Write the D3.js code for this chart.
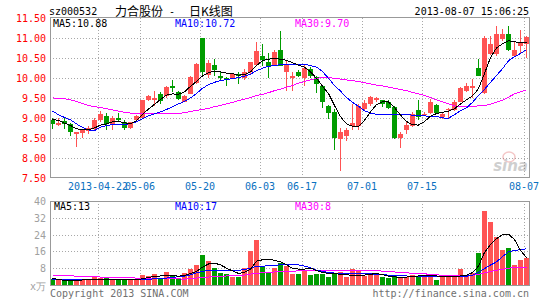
<!DOCTYPE html>
<html>
<head>
<meta charset="utf-8">
<script src="https://cdn.jsdelivr.net/npm/d3@7"></script>
<style>
  body { margin: 0; background: #fff; }
  text { font-family: "DejaVu Sans Mono", monospace; font-size: 10px; }
</style>
</head>
<body>
<div id="chart"></div>
<script>
// trading days shown (2013)
var dates = ["04-10","04-11","04-12","04-15","04-16","04-17","04-18","04-19","04-22","04-23",
  "04-24","04-25","04-26","05-02","05-03","05-06","05-07","05-08","05-09","05-10",
  "05-13","05-14","05-15","05-16","05-17","05-20","05-21","05-22","05-23","05-24",
  "05-27","05-28","05-29","05-30","05-31","06-03","06-04","06-05","06-06","06-07",
  "06-13","06-14","06-17","06-18","06-19","06-20","06-21","06-24","06-25","06-26",
  "06-27","06-28","07-01","07-02","07-03","07-04","07-05","07-08","07-09","07-10",
  "07-11","07-12","07-15","07-16","07-17","07-18","07-19","07-22","07-23","07-24",
  "07-25","07-26","07-29","07-30","07-31","08-01","08-02","08-05","08-06","08-07"];

var open = [8.95,8.82,8.92,8.84,8.60,8.62,8.67,8.72,8.93,9.05,
  8.82,8.99,8.90,8.74,8.93,8.99,9.43,9.44,9.58,9.55,
  9.78,9.65,9.40,9.60,9.86,10.98,10.07,10.31,10.05,10.00,
  9.99,10.08,9.98,10.13,10.32,10.55,10.40,10.32,10.68,10.15,
  9.99,10.13,9.99,10.22,10.01,9.80,9.30,9.13,8.47,8.53,
  8.78,8.80,9.22,9.34,9.43,9.43,9.38,9.26,8.48,8.70,
  8.80,9.18,9.07,9.11,9.32,9.01,9.18,9.18,9.40,9.66,
  9.73,10.23,9.61,10.59,10.59,10.97,11.09,10.55,10.78,10.84];
var high = [9.00,8.98,8.98,8.87,8.64,8.72,8.80,8.99,9.16,9.12,
  9.05,9.11,8.94,8.90,9.07,9.45,9.56,9.66,9.63,9.78,
  9.93,9.66,9.57,10.05,10.36,11.00,10.43,10.47,10.15,10.02,
  10.12,10.13,10.22,10.40,10.90,10.84,10.62,10.70,11.16,10.42,
  10.13,10.18,10.34,10.26,10.05,9.82,9.32,9.22,8.73,8.73,
  9.34,9.33,9.44,9.55,9.52,9.44,9.44,9.28,8.63,8.90,
  9.13,9.43,9.13,9.47,9.35,9.13,9.24,9.43,9.76,9.86,
  9.97,10.47,11.05,11.05,11.30,11.22,11.28,10.91,11.18,11.05];
var low = [8.72,8.78,8.72,8.53,8.27,8.50,8.58,8.68,8.88,8.70,
  8.68,8.88,8.68,8.72,8.91,8.97,9.42,9.30,9.33,9.50,
  9.63,9.45,9.38,9.58,9.84,10.05,10.00,10.05,9.93,9.80,
  9.97,9.83,9.95,10.10,10.30,10.30,10.00,10.28,10.28,9.66,
  9.66,10.01,9.80,10.00,9.61,9.24,8.97,8.18,7.66,8.41,
  8.69,8.69,9.19,9.30,9.38,9.26,9.22,8.46,8.24,8.59,
  8.77,8.93,9.03,9.09,9.08,8.97,8.97,9.16,9.38,9.63,
  9.49,10.03,9.59,10.57,10.55,10.92,10.67,10.52,10.59,10.49];
var close = [8.84,8.86,8.84,8.63,8.64,8.70,8.73,8.95,9.10,8.84,
  8.99,8.94,8.74,8.88,9.05,9.43,9.55,9.48,9.41,9.77,
  9.73,9.46,9.54,10.02,10.33,10.14,10.37,10.18,9.99,9.97,
  10.10,10.03,10.15,10.38,10.66,10.45,10.30,10.65,10.30,10.31,
  10.05,10.05,10.23,10.05,9.84,9.38,9.11,8.48,8.63,8.70,
  8.86,9.30,9.37,9.51,9.49,9.34,9.24,8.48,8.58,8.82,
  9.09,9.01,9.10,9.40,9.11,9.09,9.22,9.40,9.73,9.80,
  9.78,10.05,10.99,10.83,11.08,11.09,10.69,10.69,10.86,11.01];

// volume, x10k lots
var volume = [2.8,2.6,2.5,2.2,2.4,2.2,2.4,3.8,3.4,3.3,
  2.6,2.6,2.4,2.2,2.6,4.6,4.2,5.4,3.4,6.4,
  4.7,3.2,5.6,7.6,9.5,14.2,11.3,7.9,5.6,5.2,
  3.8,3.8,8.2,16.1,21.2,8.5,6.0,8.0,10.7,9.1,
  5.2,5.2,7.1,4.7,5.2,5.2,3.6,5.6,6.3,3.6,
  7.5,6.6,4.4,5.2,5.2,3.6,3.3,4.7,3.3,3.6,
  4.7,3.6,4.1,4.7,2.5,4.7,4.2,4.2,7.5,4.7,
  5.5,15.1,35.3,29.8,22.9,16.5,17.4,9.7,11.8,12.8];

// moving averages as drawn
var ma5 = [8.95,8.93,8.86,8.80,8.72,8.69,8.69,8.74,8.81,8.84,
  8.89,8.90,8.87,8.84,8.92,9.08,9.21,9.33,9.45,9.56,
  9.59,9.58,9.64,9.78,9.90,10.04,10.12,10.16,10.14,10.11,
  10.10,10.06,10.07,10.14,10.30,10.42,10.46,10.47,10.46,10.43,
  10.37,10.31,10.26,10.14,9.98,9.78,9.60,9.30,9.02,8.84,
  8.78,8.78,8.93,9.14,9.32,9.39,9.39,9.25,9.06,8.90,
  8.82,8.81,8.90,9.03,9.10,9.13,9.16,9.22,9.34,9.44,
  9.54,9.72,10.10,10.50,10.74,10.84,10.92,10.89,10.88,10.88];
var ma10 = [9.16,9.07,9.00,8.94,8.84,8.75,8.69,8.67,8.76,8.80,
  8.82,8.82,8.82,8.85,8.89,8.97,9.04,9.09,9.14,9.20,
  9.27,9.34,9.40,9.49,9.60,9.73,9.82,9.88,9.92,9.95,
  9.97,10.00,10.03,10.08,10.17,10.23,10.28,10.30,10.32,10.33,
  10.33,10.33,10.33,10.30,10.26,10.15,9.98,9.80,9.66,9.50,
  9.38,9.28,9.17,9.11,9.08,9.08,9.08,9.08,9.08,9.07,
  9.06,9.05,9.04,9.03,9.03,8.99,8.98,9.07,9.17,9.24,
  9.38,9.55,9.70,9.88,10.05,10.22,10.42,10.52,10.60,10.70];
var ma30 = [9.49,9.48,9.47,9.44,9.40,9.35,9.30,9.27,9.25,9.22,
  9.19,9.16,9.13,9.11,9.10,9.09,9.09,9.09,9.09,9.09,
  9.09,9.10,9.12,9.15,9.18,9.20,9.23,9.27,9.30,9.34,
  9.38,9.42,9.46,9.50,9.55,9.58,9.62,9.67,9.71,9.76,
  9.80,9.86,9.90,9.94,9.98,10.00,10.00,9.98,9.96,9.94,
  9.92,9.90,9.87,9.84,9.81,9.79,9.76,9.73,9.70,9.67,
  9.63,9.59,9.55,9.50,9.44,9.39,9.34,9.29,9.27,9.27,
  9.28,9.29,9.30,9.33,9.38,9.43,9.51,9.59,9.64,9.69];

var vma5 = [3.1,2.7,2.2,2.0,2.2,2.4,2.4,2.5,2.6,2.8,
  2.8,2.7,2.5,2.4,2.4,3.0,3.6,4.1,4.3,4.7,
  4.5,4.2,4.6,5.4,6.5,8.5,10.0,10.4,9.6,8.0,
  6.7,5.5,6.0,7.6,11.4,12.0,12.2,11.8,11.0,9.6,
  8.0,7.6,7.6,8.0,6.9,5.9,5.6,5.4,5.1,4.8,
  4.7,4.7,4.7,5.1,5.5,4.9,4.2,3.9,3.6,3.8,
  4.1,4.3,4.6,4.6,4.3,4.1,4.1,4.1,4.3,4.7,
  5.9,9.0,15.5,19.2,22.0,24.0,24.2,21.6,16.5,13.0];
var vma10 = [2.8,2.7,2.6,2.5,2.4,2.4,2.4,2.4,2.4,2.4,
  2.4,2.4,2.4,2.4,2.5,2.7,2.8,2.9,3.1,3.3,
  3.7,3.9,4.2,4.8,5.8,6.5,6.9,7.1,7.1,7.1,
  7.0,7.0,7.3,8.0,9.0,8.9,9.2,9.4,9.6,9.7,
  9.7,9.6,9.0,8.2,7.1,6.5,5.9,5.7,5.6,5.6,
  5.6,5.6,5.5,5.3,5.1,4.9,4.7,4.5,4.4,4.3,
  4.2,4.1,4.1,4.1,4.1,4.1,4.1,4.1,4.1,4.2,
  4.7,6.0,7.8,9.5,11.0,13.5,15.8,16.4,16.8,17.3];
var vma30 = [4.7,4.7,4.6,4.4,4.2,4.1,4.0,3.9,3.8,3.7,
  3.6,3.6,3.5,3.4,3.3,3.2,3.1,3.1,3.0,3.0,
  2.9,2.9,2.8,3.0,3.3,3.6,3.8,4.0,4.2,4.3,
  4.4,4.5,4.7,5.2,5.6,5.8,6.0,6.2,6.4,6.5,
  6.6,6.7,6.8,6.9,7.0,7.1,7.1,7.1,7.1,7.1,
  7.1,7.1,7.1,7.0,6.8,6.6,6.4,6.2,6.0,5.8,
  5.6,5.5,5.3,5.1,4.8,4.7,4.7,4.7,4.7,4.7,
  4.7,5.0,5.8,6.4,7.0,7.5,8.0,8.4,8.5,8.5];

var priceTicks = [7.5,8.0,8.5,9.0,9.5,10.0,10.5,11.0,11.5];
var volTicks = [8,16,24,32,40];
var tickDates = ["04-22","05-06","05-20","06-03","06-17","07-01","07-15","08-07"];
var tickLabels = ["2013-04-22","05-06","05-20","06-03","06-17","07-01","07-15","08-07"];

var upColor = "#ff5353", downColor = "#009c00";
var gridColor = "#a8a8a8";

var svg = d3.select("#chart")
  .append("svg")
  .attr("width", 545)
  .attr("height", 300);

// one slot of 6px per trading day
var x = d3.scaleLinear().domain([0, dates.length]).range([50, 530]);
var y = d3.scaleLinear().domain([7.5, 11.5]).range([177.5, 17.5]);
var yv = d3.scaleLinear().domain([0, 40]).range([285, 201]);
var bw = 5;
var tickIdx = tickDates.map(function (d) { return dates.indexOf(d); });

// header
svg.append("text").attr("x", 49).attr("y", 15).text("sz000532");
svg.append("text").attr("x", 115).attr("y", 16)
  .style("font-family", "'Noto Sans CJK SC'").style("font-size", "12px").text("力合股份");
svg.append("text").attr("x", 169).attr("y", 15).text("-");
svg.append("text").attr("x", 189).attr("y", 16)
  .style("font-family", "'Noto Sans CJK SC'").style("font-size", "12px").text("日K线图");
svg.append("text").attr("x", 529).attr("y", 15).attr("text-anchor", "end").text("2013-08-07 15:06:25");

// grid: price panel
svg.append("g").selectAll("line")
  .data(priceTicks.slice(1, -1))
  .enter().append("line")
  .attr("x1", 50).attr("x2", 530)
  .attr("y1", function (d) { return Math.round(y(d)) + 0.5; })
  .attr("y2", function (d) { return Math.round(y(d)) + 0.5; })
  .style("stroke", gridColor).style("stroke-dasharray", "1,2");
svg.append("g").selectAll("line")
  .data(tickIdx)
  .enter().append("line")
  .attr("x1", function (d) { return x(d) + 0.5; })
  .attr("x2", function (d) { return x(d) + 0.5; })
  .attr("y1", 18).attr("y2", 177)
  .style("stroke", gridColor).style("stroke-dasharray", "1,2");

// grid: volume panel
svg.append("g").selectAll("line")
  .data(volTicks.slice(0, -1))
  .enter().append("line")
  .attr("x1", 50).attr("x2", 530)
  .attr("y1", function (d) { return Math.round(yv(d)) + 0.5; })
  .attr("y2", function (d) { return Math.round(yv(d)) + 0.5; })
  .style("stroke", gridColor).style("stroke-dasharray", "1,2");
svg.append("g").selectAll("line")
  .data(tickIdx)
  .enter().append("line")
  .attr("x1", function (d) { return x(d) + 0.5; })
  .attr("x2", function (d) { return x(d) + 0.5; })
  .attr("y1", 201).attr("y2", 285)
  .style("stroke", gridColor).style("stroke-dasharray", "1,2");

// price labels
svg.append("g").selectAll("text")
  .data(priceTicks)
  .enter().append("text")
  .attr("x", 46)
  .attr("y", function (d) { return y(d) + 4; })
  .attr("text-anchor", "end")
  .style("fill", "#ff0000")
  .text(function (d) { return d.toFixed(2); });

// volume labels
svg.append("g").selectAll("text")
  .data(volTicks)
  .enter().append("text")
  .attr("x", 46)
  .attr("y", function (d) { return yv(d) + 4; })
  .attr("text-anchor", "end")
  .style("fill", "#a0a0a0")
  .text(function (d) { return d; });
svg.append("text").attr("x", 30).attr("y", 290).style("fill", "#a0a0a0").text("x万");

// date labels
svg.append("g").selectAll("text")
  .data(tickIdx)
  .enter().append("text")
  .attr("x", function (d) { return x(d); })
  .attr("y", 190)
  .attr("text-anchor", "middle")
  .style("fill", "#0a70c0")
  .text(function (d, i) { return tickLabels[i]; });

// watermark
var wm = svg.append("g").style("opacity", 0.35);
wm.append("ellipse").attr("cx", 509).attr("cy", 157).attr("rx", 6).attr("ry", 5)
  .style("fill", "none").style("stroke", "#e06060").style("stroke-width", 1.5);
wm.append("text").attr("x", 528).attr("y", 171).attr("text-anchor", "end")
  .style("font-family", "'DejaVu Sans'").style("font-size", "15px")
  .style("font-weight", "bold").style("font-style", "italic").style("fill", "#777")
  .text("sina");

// candles
var idx = d3.range(dates.length);
var candles = svg.append("g").style("shape-rendering", "crispEdges");
candles.selectAll("line")
  .data(idx)
  .enter().append("line")
  .attr("x1", function (i) { return x(i) + 2.5; })
  .attr("x2", function (i) { return x(i) + 2.5; })
  .attr("y1", function (i) { return y(high[i]); })
  .attr("y2", function (i) { return y(low[i]); })
  .style("stroke", function (i) { return close[i] >= open[i] ? upColor : downColor; });
candles.selectAll("rect")
  .data(idx)
  .enter().append("rect")
  .attr("x", function (i) { return x(i); })
  .attr("y", function (i) { return y(Math.max(open[i], close[i])); })
  .attr("width", bw)
  .attr("height", function (i) { return Math.max(1, Math.abs(y(open[i]) - y(close[i]))); })
  .style("fill", function (i) { return close[i] >= open[i] ? upColor : downColor; });

// volume bars
svg.append("g").style("shape-rendering", "crispEdges")
  .selectAll("rect")
  .data(idx)
  .enter().append("rect")
  .attr("x", function (i) { return x(i); })
  .attr("y", function (i) { return yv(volume[i]); })
  .attr("width", bw)
  .attr("height", function (i) { return yv(0) - yv(volume[i]); })
  .style("fill", function (i) { return close[i] >= open[i] ? upColor : downColor; });

// MA lines
function drawLine(values, scale, color) {
  var line = d3.line()
    .x(function (d, i) { return x(i) + 2.5; })
    .y(function (d) { return scale(d); });
  svg.append("path")
    .datum(values)
    .attr("d", line)
    .style("fill", "none")
    .style("stroke", color)
    .style("stroke-width", 1)
    .style("shape-rendering", "crispEdges");
}
drawLine(ma30, y, "#ff00ff");
drawLine(ma10, y, "#0000ff");
drawLine(ma5, y, "#000000");
drawLine(vma30, yv, "#ff00ff");
drawLine(vma10, yv, "#0000ff");
drawLine(vma5, yv, "#000000");

// panel borders
svg.append("rect").attr("x", 50.5).attr("y", 17.5).attr("width", 479).attr("height", 160)
  .style("fill", "none").style("stroke", "#999");
svg.append("rect").attr("x", 50.5).attr("y", 201.5).attr("width", 479).attr("height", 84)
  .style("fill", "none").style("stroke", "#999");

// legends
svg.append("text").attr("x", 53).attr("y", 27).style("fill", "#000").text("MA5:10.88");
svg.append("text").attr("x", 175).attr("y", 27).style("fill", "#0000ff").text("MA10:10.72");
svg.append("text").attr("x", 295).attr("y", 27).style("fill", "#ff00ff").text("MA30:9.70");
svg.append("text").attr("x", 54).attr("y", 210).style("fill", "#000").text("MA5:13");
svg.append("text").attr("x", 175).attr("y", 210).style("fill", "#0000ff").text("MA10:17");
svg.append("text").attr("x", 295).attr("y", 210).style("fill", "#ff00ff").text("MA30:8");

// footer
svg.append("text").attr("x", 50).attr("y", 297).style("fill", "#707070").text("Copyright 2013 SINA.COM");
svg.append("text").attr("x", 529).attr("y", 297).attr("text-anchor", "end")
  .style("fill", "#707070").text("http://finance.sina.com.cn");
</script>
</body>
</html>
